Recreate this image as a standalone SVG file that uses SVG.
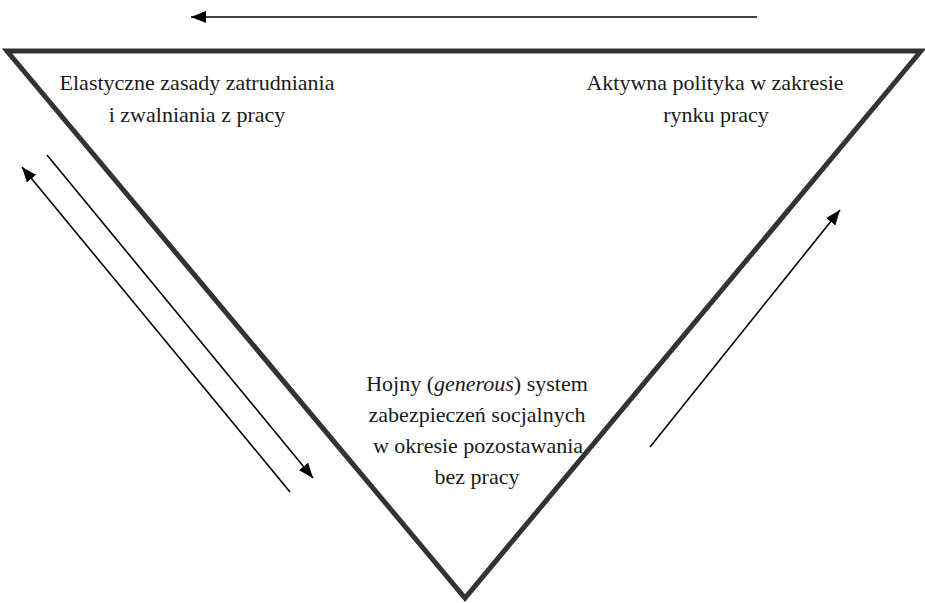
<svg xmlns="http://www.w3.org/2000/svg" width="925" height="603" viewBox="0 0 925 603">
<style>
.t{font-size:22px;fill:#1a1a1a;text-anchor:middle}
.c{stroke:#000;stroke-width:1.6;fill:none}
.tri{fill:none;stroke:#333;stroke-width:5;stroke-linejoin:miter;stroke-miterlimit:10}
</style>
<defs>
<marker id="ah2" viewBox="0 0 10 10" refX="10" refY="5" markerWidth="15" markerHeight="12" markerUnits="userSpaceOnUse" orient="auto" preserveAspectRatio="none">
<path d="M0,0 L10,5 L0,10 z" fill="#000"/>
</marker>
</defs>
<g id="triangle">
<path class="tri" d="M7,51 L921,51 L465,598 Z"/>
</g>
<g id="connectors">
<line class="c" x1="757" y1="17" x2="191" y2="17" stroke-width="2.2" marker-end="url(#ah2)"/>
<line class="c" x1="290" y1="492" x2="22" y2="167" marker-end="url(#ah2)"/>
<line class="c" x1="47" y1="155" x2="313" y2="478" marker-end="url(#ah2)"/>
<line class="c" x1="650" y1="447" x2="840" y2="210" marker-end="url(#ah2)"/>
</g>
<g font-family="'Liberation Serif', 'Times New Roman', 'Noto Serif', 'DejaVu Serif', serif">
<g id="node-flex">
<text class="t" x="197" y="90">Elastyczne zasady zatrudniania</text>
<text class="t" x="197" y="122">i zwalniania z pracy</text>
</g>
<g id="node-active">
<text class="t" x="715" y="90">Aktywna polityka w zakresie</text>
<text class="t" x="716" y="122">rynku pracy</text>
</g>
<g id="node-security">
<text class="t" x="477" y="391">Hojny (<tspan font-style="italic">generous</tspan>) system</text>
<text class="t" x="477" y="422">zabezpieczeń socjalnych</text>
<text class="t" x="478" y="453">w okresie pozostawania</text>
<text class="t" x="477" y="484">bez pracy</text>
</g>
</g>
</svg>
